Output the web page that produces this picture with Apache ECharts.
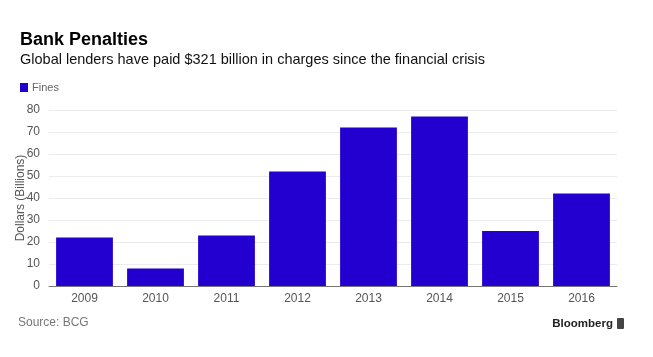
<!DOCTYPE html>
<html><head><meta charset="utf-8">
<script src="https://cdn.jsdelivr.net/npm/echarts@6/dist/echarts.min.js"></script>
<style>html,body{margin:0;padding:0;background:#fff}#c{width:653px;height:357px}</style>
</head><body><div id="c"></div>
<script>
const categories = ['2009','2010','2011','2012','2013','2014','2015','2016'];
const fines = [22, 8, 23, 52, 72, 77, 25, 42];
const seriesName = 'Fines';
const titleText = 'Bank Penalties';
const subtitleText = 'Global lenders have paid $321 billion in charges since the financial crisis';
const yAxisName = 'Dollars (Billions)';
const sourceText = 'Source: BCG';
const brandText = 'Bloomberg';

const chart = echarts.init(document.getElementById('c'));
const font = 'Liberation Sans, Arial, Helvetica, sans-serif';
chart.setOption({
  backgroundColor: '#fff',
  animation: false,
  textStyle: { fontFamily: font },
  title: {
    text: titleText, subtext: subtitleText, left: 15, top: 26, itemGap: 3,
    textStyle: { fontFamily: font, fontSize: 18, fontWeight: 'bold', color: '#000' },
    subtextStyle: { fontFamily: font, fontSize: 14.5, color: '#111' }
  },
  legend: {
    data: [seriesName], left: 15, top: 77, itemWidth: 8, itemHeight: 9, itemGap: 4,
    icon: 'rect', textStyle: { fontFamily: font, fontSize: 11, color: '#666', padding: [0,0,0,-1] }
  },
  grid: { left: 49, right: 36, top: 110, bottom: 71, containLabel: false, outerBoundsMode: 'none' },
  xAxis: {
    type: 'category', data: categories,
    axisLine: { lineStyle: { color: '#777', width: 1 } },
    axisTick: { alignWithLabel: true, length: 3, lineStyle: { color: '#777' } },
    axisLabel: { color: '#555', fontSize: 12, margin: 7 }
  },
  yAxis: {
    type: 'value', min: 0, max: 80, interval: 10,
    name: yAxisName, nameLocation: 'middle', nameGap: 22, nameMoveOverlap: false,
    nameTextStyle: { color: '#555', fontSize: 12 },
    axisLine: { show: false }, axisTick: { show: false },
    axisLabel: { color: '#555', fontSize: 12, margin: 9 },
    splitLine: { lineStyle: { color: '#ececec', width: 1 } }
  },
  series: [{
    name: seriesName, type: 'bar', data: fines, barCategoryGap: '20%',
    itemStyle: { color: '#2400d0' }
  }],
  graphic: [
    { type: 'text', left: 18, top: 317, style: { text: sourceText, fill: '#777', fontSize: 12, fontFamily: font } },
    { type: 'text', right: 40, top: 318, style: { text: brandText, fill: '#222', fontSize: 11.5, fontWeight: 'bold', fontFamily: font } },
    { type: 'rect', right: 29, top: 318, shape: { width: 7, height: 11, r: 1 }, style: { fill: '#444' } }
  ]
});
</script></body></html>
